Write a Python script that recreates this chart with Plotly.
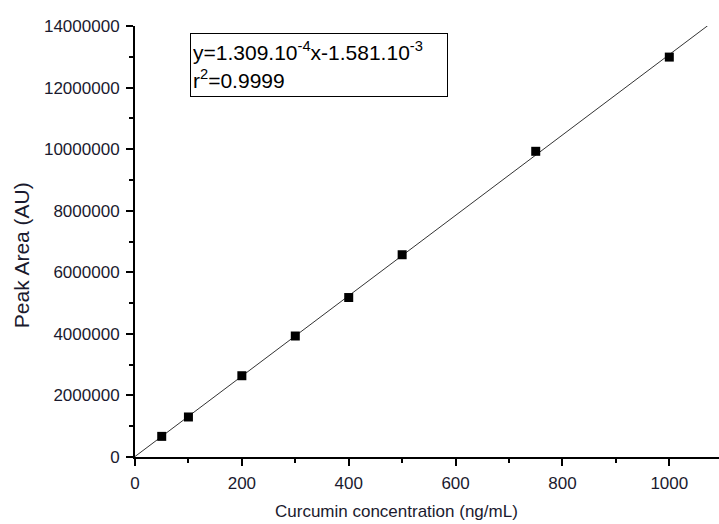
import numpy as np
import plotly.graph_objects as go

# Calibration standards
conc_ng_ml = [50, 100, 200, 300, 400, 500, 750, 1000]
peak_area = [670000, 1300000, 2640000, 3930000, 5180000, 6570000, 9930000, 12990000]

# Extent of the drawn regression line
fit_x = [0, 1072]

x_ticks = [0, 200, 400, 600, 800, 1000]
y_ticks = [0, 2000000, 4000000, 6000000, 8000000, 10000000, 12000000, 14000000]

slope, intercept = np.polyfit(conc_ng_ml, peak_area, 1)
fit_y = [slope * v + intercept for v in fit_x]

font_family = "Liberation Sans, Arial, sans-serif"
text_color = "#1a1a2e"

fig = go.Figure()
fig.add_trace(go.Scatter(
    x=fit_x, y=fit_y, mode="lines",
    line=dict(color="#333333", width=1),
    hoverinfo="skip", showlegend=False,
))
fig.add_trace(go.Scatter(
    x=conc_ng_ml, y=peak_area, mode="markers",
    marker=dict(symbol="square", size=9, color="black"),
    showlegend=False,
))

axis_common = dict(
    showgrid=False, zeroline=False,
    showline=True, linecolor="black", linewidth=2,
    ticks="outside", ticklen=7, tickwidth=2, tickcolor="black",
    tickfont=dict(family=font_family, size=17, color=text_color),
)

fig.update_layout(
    width=719, height=524,
    margin=dict(l=135, r=0, t=26, b=67),
    paper_bgcolor="white", plot_bgcolor="white",
    xaxis=dict(
        range=[0, 1093], tickvals=x_ticks,
        ticktext=[str(v) for v in x_ticks],
        ticklabelstandoff=3,
        minor=dict(dtick=100, tick0=0, ticks="outside", ticklen=4, tickwidth=2, tickcolor="black"),
        **axis_common,
    ),
    yaxis=dict(
        range=[0, 14000000], tickvals=y_ticks,
        ticktext=[str(v) for v in y_ticks],
        ticklabelstandoff=3,
        minor=dict(dtick=1000000, tick0=0, ticks="outside", ticklen=4, tickwidth=2, tickcolor="black"),
        **axis_common,
    ),
    annotations=[
        dict(
            text="Curcumin concentration (ng/mL)",
            xref="paper", yref="paper", x=0.447, y=-0.127,
            xanchor="center", yanchor="middle", showarrow=False,
            font=dict(family=font_family, size=17, color=text_color),
        ),
        dict(
            text="Peak Area (AU)",
            xref="paper", yref="paper", x=-0.193, y=0.469,
            xanchor="center", yanchor="middle", showarrow=False, textangle=-90,
            font=dict(family=font_family, size=21, color=text_color),
        ),
        dict(
            text="y=1.309.10<sup>-4</sup>x-1.581.10<sup>-3</sup><br>r<sup>2</sup>=0.9999",
            xref="paper", yref="paper", x=(190 - 135) / 584, y=(457 - 33) / 431,
            xanchor="left", yanchor="top", align="left", valign="middle",
            showarrow=False,
            font=dict(family=font_family, size=21, color="black"),
            bordercolor="black", borderwidth=1, borderpad=2,
            bgcolor="white", width=252, height=58,
        ),
    ],
)

fig.write_html("out.html")
